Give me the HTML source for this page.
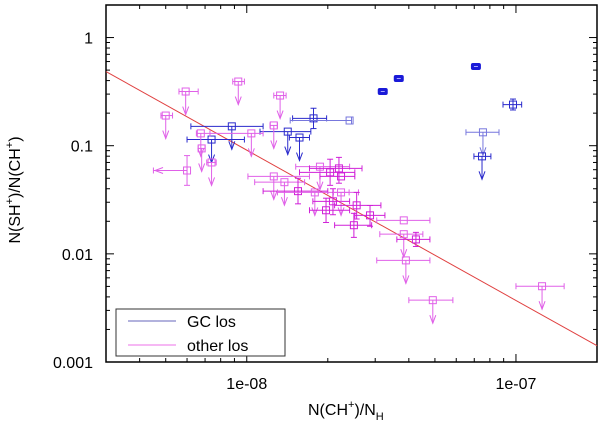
<!DOCTYPE html>
<html><head><meta charset="utf-8"><style>
body{margin:0;background:#fff;}
svg text{font-family:"Liberation Sans",sans-serif;}
</style></head><body>
<svg id="chart" width="600" height="420" xmlns="http://www.w3.org/2000/svg"></svg>
<script>
// GC line of sight data
const gcX   =[3.2e-8,3.67e-8,7.1e-8,9.75e-8,7.54e-8,7.48e-8,1.77e-8,2.41e-8,0.88e-8,1.42e-8,1.57e-8,0.74e-8];
const gcY   =[0.317,0.418,0.54,0.240,0.133,0.0797,0.179,0.171,0.151,0.135,0.119,0.114];
const gcXlo =[3.1e-8,3.55e-8,6.9e-8,8.95e-8,6.52e-8,6.98e-8,1.48e-8,1.45e-8,0.62e-8,1.12e-8,1.44e-8,0.60e-8];
const gcXhi =[3.3e-8,3.8e-8,7.3e-8,10.5e-8,8.65e-8,8.07e-8,1.98e-8,2.45e-8,1.15e-8,1.73e-8,1.71e-8,0.98e-8];
const gcYlo =[0,0,0,0.214,0,0,0.144,0,0,0,0,0];
const gcYhi =[0,0,0,0.27,0,0,0.222,0,0,0,0,0];
const gcUL  =[0,0,0,0,1,1,0,0,1,1,1,1];
const gcDark=[2,2,2,1,0,1,1,0,1,1,1,1];
// other lines of sight
const otX  =[0.93e-8,0.593e-8,1.33e-8,0.50e-8,1.26e-8,0.675e-8,1.04e-8,0.68e-8,0.74e-8,0.60e-8,1.26e-8,1.38e-8,1.87e-8,2.04e-8,2.20e-8,2.24e-8,1.55e-8,1.79e-8,2.09e-8,2.24e-8,2.56e-8,2.87e-8,2.50e-8,1.97e-8,3.83e-8,3.83e-8,4.25e-8,3.9e-8,4.91e-8,1.25e-7];
const otY  =[0.392,0.317,0.291,0.19,0.154,0.130,0.130,0.0944,0.070,0.059,0.052,0.046,0.064,0.0567,0.0617,0.052,0.038,0.037,0.0306,0.037,0.0281,0.0227,0.0184,0.0253,0.0204,0.0152,0.0136,0.0087,0.00373,0.00502];
const otXlo=[0.887e-8,0.56e-8,1.26e-8,0.48e-8,1.22e-8,0.65e-8,0.73e-8,0.66e-8,0.71e-8,0.45e-8,1.01e-8,1.07e-8,1.52e-8,1.57e-8,1.71e-8,1.87e-8,1.15e-8,1.3e-8,1.76e-8,2.1e-8,2.12e-8,2.52e-8,2.12e-8,1.71e-8,3.04e-8,3.12e-8,3.61e-8,3.04e-8,4.0e-8,1.0e-7];
const otXhi=[0.98e-8,0.66e-8,1.40e-8,0.53e-8,1.30e-8,0.73e-8,1.15e-8,0.70e-8,0.77e-8,0.60e-8,1.71e-8,1.64e-8,2.41e-8,2.52e-8,2.68e-8,2.52e-8,2.0e-8,2.6e-8,2.41e-8,2.4e-8,3.15e-8,3.26e-8,2.91e-8,2.41e-8,4.79e-8,4.51e-8,4.79e-8,4.79e-8,5.83e-8,1.51e-7];
const otYlo=[0,0,0,0,0,0,0,0,0,0.043,0,0,0,0.043,0.045,0,0.029,0,0.023,0,0.021,0.018,0.0142,0.0195,0,0,0.0117,0,0,0];
const otYhi=[0,0,0,0,0,0,0,0,0,0.081,0,0,0,0.075,0.078,0,0.050,0,0.040,0,0.037,0.028,0.0237,0.0327,0,0,0.0158,0,0,0];
const otUL =[1,1,1,1,1,1,1,1,1,0,1,1,1,0,0,0,0,1,0,1,0,0,0,0,0,1,0,1,1,1];
const otDark=[0,0,0,0,0,0,0,0,0,0,0,0,0,1,1,1,1,0,1,0,1,1,1,1,0,0,1,0,0,0];
// fit line
const fitX=[3e-9,2e-7];
const fitA=0.485, fitX0=3e-9, fitSlope=-1.39;
const yTicks=[1,0.1,0.01,0.001], yTickLabels=["1","0.1","0.01","0.001"];
const xTicks=[1e-8,1e-7], xTickLabels=["1e-08","1e-07"];

const L=106,R=597,T=5,B=362;
const xmin=Math.log10(3e-9),xmax=Math.log10(2e-7),ymin=-3,ymax=Math.log10(2);
const sx=v=>L+(Math.log10(v)-xmin)/(xmax-xmin)*(R-L);
const sy=v=>B-(Math.log10(v)-ymin)/(ymax-ymin)*(B-T);
const svg=document.getElementById('chart');
const NS="http://www.w3.org/2000/svg";
function mk(tag,attrs,parent){const e=document.createElementNS(NS,tag);for(const k in attrs)e.setAttribute(k,attrs[k]);(parent||svg).appendChild(e);return e;}

const fr=mk('rect',{x:L,y:T,width:R-L,height:B-T,fill:'none',stroke:'#000','stroke-width':1.5});


for(let d=-3;d<=0;d++){for(let m=1;m<10;m++){const v=m*Math.pow(10,d);if(Math.log10(v)>ymax)break;const y=sy(v);const len=m==1?8:4;
mk('line',{x1:L,y1:y,x2:L+len,y2:y,stroke:'#000'});mk('line',{x1:R,y1:y,x2:R-len,y2:y,stroke:'#000'});}}
for(let d=-9;d<=-7;d++){for(let m=1;m<10;m++){const v=m*Math.pow(10,d);const lv=Math.log10(v);if(lv<xmin||lv>xmax)continue;const x=sx(v);const len=m==1?8:4;
mk('line',{x1:x,y1:B,x2:x,y2:B-len,stroke:'#000'});mk('line',{x1:x,y1:T,x2:x,y2:T+len,stroke:'#000'});}}
yTicks.forEach((v,i)=>{const t=mk('text',{x:93,y:sy(v)+6,'text-anchor':'end','font-size':16});t.textContent=yTickLabels[i];

});
xTicks.forEach((v,i)=>{const t=mk('text',{x:sx(v),y:389,'text-anchor':'middle','font-size':16});t.textContent=xTickLabels[i];

});
const xt=mk('text',{x:308,y:415,'font-size':16});


xt.innerHTML='N(CH<tspan dy="-7" font-size="11">+</tspan><tspan dy="7">)/N</tspan><tspan dy="5" font-size="11">H</tspan>';
const yt=mk('text',{x:0,y:0,'font-size':16,'text-anchor':'middle',transform:'translate(20,190) rotate(-90)'});


yt.innerHTML='N(SH<tspan dy="-7" font-size="11">+</tspan><tspan dy="7">)/N(CH</tspan><tspan dy="-7" font-size="11">+</tspan><tspan dy="7">)</tspan>';
const fl=mk('line',{x1:sx(fitX[0]),y1:sy(fitA*Math.pow(fitX[0]/fitX0,fitSlope)),x2:sx(fitX[1]),y2:sy(fitA*Math.pow(fitX[1]/fitX0,fitSlope)),stroke:'#e04040','stroke-width':1});



function drawSeries(X,Y,Xlo,Xhi,Ylo,Yhi,UL,Dark,cols,name){
  const g=mk('g',{});
  
  
  X.forEach((xv,i)=>{
    const c=cols[Dark[i]];const x=sx(xv),y=sy(Y[i]);
    const p=mk('g',{stroke:c,fill:'none','stroke-width':1},g);
    
    
    const x1=sx(Xlo[i]),x2=sx(Xhi[i]);
    mk('line',{x1:x1,y1:y,x2:x2,y2:y},p);
    mk('line',{x1:x1,y1:y-3,x2:x1,y2:y+3},p);mk('line',{x1:x2,y1:y-3,x2:x2,y2:y+3},p);
    if(Ylo[i]){const y1=sy(Ylo[i]),y2=sy(Yhi[i]);mk('line',{x1:x,y1:y1,x2:x,y2:y2},p);
      mk('line',{x1:x-3,y1:y1,x2:x+3,y2:y1},p);mk('line',{x1:x-3,y1:y2,x2:x+3,y2:y2},p);}
    if(UL[i]){const ye=y+23;mk('line',{x1:x,y1:y,x2:x,y2:ye},p);mk('polyline',{points:`${x-3},${ye-8} ${x},${ye} ${x+3},${ye-8}`},p);}
    if(name==='other-los-series'&&i===9){mk('line',{x1:x,y1:y,x2:x-32,y2:y},p);mk('polyline',{points:`${x-24},${y-3} ${x-32},${y} ${x-24},${y+3}`},p);}
    if(Dark[i]==2){mk('rect',{x:x-4.5,y:y-3,width:9,height:6,rx:1.5,fill:c,stroke:c},p);mk('line',{x1:x-2,y1:y,x2:x+2,y2:y,stroke:'#aaf'},p);}
    else mk('rect',{x:x-3.5,y:y-3.5,width:7,height:7},p);
  });
}
drawSeries(gcX,gcY,gcXlo,gcXhi,gcYlo,gcYhi,gcUL,gcDark,['#7777dd','#2a2acc','#1a1ad8'],'gc-los-series');
drawSeries(otX,otY,otXlo,otXhi,otYlo,otYhi,otUL,otDark,['#e060e8','#d020d8'],'other-los-series');

const lg=mk('g',{});


mk('rect',{x:116,y:309,width:169,height:47,fill:'#fff',stroke:'#333','stroke-width':1},lg);
const e1=mk('g',{},lg);


mk('line',{x1:128,y1:321,x2:176,y2:321,stroke:'#6666bb'},e1);
const t1=mk('text',{x:187,y:327,'font-size':16},e1);t1.textContent='GC los';
const e2=mk('g',{},lg);


mk('line',{x1:128,y1:345,x2:176,y2:345,stroke:'#f4a0f0','stroke-width':1.5},e2);
const t2=mk('text',{x:187,y:351,'font-size':16},e2);t2.textContent='other los';
</script>
</body></html>
